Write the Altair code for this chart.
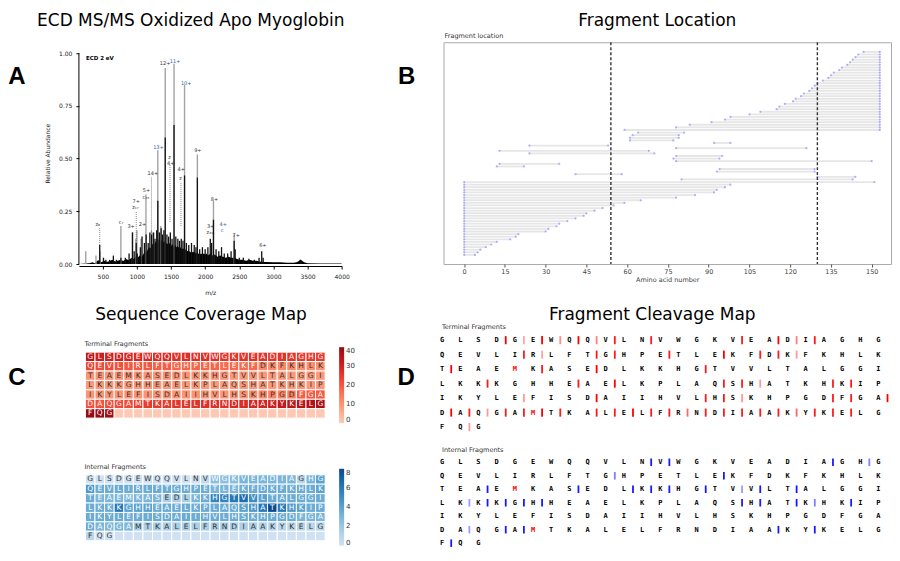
import altair as alt
import pandas as pd

FT = "DejaVu Sans"
FL = "Liberation Sans"
FS = "DejaVu Sans"
FM = "DejaVu Sans Mono"

# ================= Panel A : ECD spectrum =================
env_mz = [150, 300, 350, 380, 400, 430, 460, 480, 520, 560,
          600, 640, 680, 720, 760, 800, 840, 880, 920, 950,
          980, 1010, 1040, 1070, 1100, 1120, 1140, 1160, 1180, 1200,
          1220, 1240, 1260, 1280, 1300, 1320, 1340, 1360, 1380, 1400,
          1420, 1440, 1460, 1480, 1500, 1520, 1540, 1560, 1580, 1600,
          1620, 1640, 1660, 1680, 1700, 1720, 1740, 1760, 1780, 1800,
          1820, 1840, 1860, 1880, 1900, 1920, 1940, 1960, 1980, 2000,
          2020, 2040, 2060, 2080, 2100, 2140, 2180, 2220, 2260, 2300,
          2340, 2380, 2420, 2460, 2500, 2550, 2600, 2650, 2700, 2750,
          2800, 2850, 2900, 3000, 3100, 3200, 3300, 3350, 3400, 3450,
          3500, 3700, 4000]
env_int = [0.000, 0.004, 0.008, 0.004, 0.010, 0.018, 0.014, 0.008, 0.016, 0.010,
           0.014, 0.020, 0.012, 0.015, 0.020, 0.014, 0.024, 0.018, 0.030, 0.024,
           0.034, 0.030, 0.040, 0.034, 0.050, 0.060, 0.055, 0.070, 0.080, 0.075,
           0.090, 0.100, 0.095, 0.110, 0.100, 0.120, 0.105, 0.115, 0.100, 0.110,
           0.095, 0.100, 0.090, 0.100, 0.085, 0.095, 0.080, 0.090, 0.080, 0.085,
           0.075, 0.080, 0.070, 0.075, 0.065, 0.070, 0.060, 0.065, 0.055, 0.060,
           0.055, 0.060, 0.050, 0.055, 0.050, 0.045, 0.050, 0.045, 0.050, 0.045,
           0.050, 0.040, 0.045, 0.050, 0.040, 0.045, 0.035, 0.040, 0.035, 0.030,
           0.035, 0.030, 0.030, 0.025, 0.020, 0.020, 0.015, 0.020, 0.015, 0.015,
           0.012, 0.010, 0.010, 0.008, 0.008, 0.006, 0.006, 0.010, 0.020, 0.008,
           0.004, 0.003, 0.002]

black_mz = [455, 510, 545, 600, 655, 700, 765, 830, 885, 935,
            960, 990, 1005, 1050, 1075, 1110, 1135, 1165, 1190, 1215,
            1240, 1265, 1290, 1306, 1330, 1355, 1375, 1395, 1415, 1440,
            1465, 1490, 1515, 1544, 1570, 1600, 1625, 1650, 1675, 1698,
            1725, 1760, 1800, 1840, 1865, 1886, 1920, 1960, 2000, 2040,
            2075, 2095, 2122, 2160, 2200, 2240, 2280, 2330, 2380, 2425,
            2440, 2500, 2560, 2640, 2720, 2790, 2829, 2850, 3394, 3410]
black_int = [0.09, 0.03, 0.02, 0.02, 0.04, 0.02, 0.03, 0.03, 0.05, 0.15,
             0.06, 0.10, 0.05, 0.08, 0.13, 0.10, 0.14, 0.10, 0.15, 0.14,
             0.15, 0.12, 0.16, 0.30, 0.15, 0.17, 0.14, 0.16, 0.60, 0.14,
             0.13, 0.15, 0.12, 0.66, 0.13, 0.12, 0.11, 0.12, 0.11, 0.42,
             0.10, 0.09, 0.10, 0.09, 0.08, 0.41, 0.07, 0.08, 0.07, 0.08,
             0.12, 0.10, 0.21, 0.07, 0.06, 0.08, 0.05, 0.05, 0.06, 0.11,
             0.07, 0.03, 0.03, 0.025, 0.02, 0.03, 0.06, 0.03, 0.02, 0.015]

gray_mz = [250, 400, 460, 765, 935, 985, 1000, 1061, 1132, 1213,
           1250, 1306, 1350, 1415, 1544, 1698, 1886, 2122, 2425]
gray_int = [0.06, 0.04, 0.06, 0.18, 0.15, 0.12, 0.16, 0.12, 0.33, 0.16,
            0.15, 0.54, 0.18, 0.93, 0.95, 0.85, 0.52, 0.30, 0.14]

lab_text = ["z₈", "c₇", "3+", "7+", "z₁₇", "2+", "5+", "c₁₅", "14+", "13+",
            "12+", "11+", "10+", "z", "4+", "4+", "z", "9+", "8+", "3+",
            "z₂₁", "4+", "c", "7+", "6+"]
lab_mz = [427, 768, 915, 990, 980, 1080, 1140, 1130, 1233, 1315,
          1413, 1560, 1722, 1478, 1495, 1650, 1638, 1893, 2136, 2080,
          2070, 2265, 2250, 2455, 2845]
lab_int = [0.19, 0.20, 0.18, 0.30, 0.27, 0.19, 0.35, 0.32, 0.43, 0.555,
           0.955, 0.965, 0.86, 0.51, 0.48, 0.45, 0.41, 0.54, 0.31, 0.18,
           0.15, 0.19, 0.16, 0.14, 0.09]
lab_kind = ["frag", "frag", "frag", "frag", "frag", "frag", "frag", "frag", "frag", "prec",
            "frag", "prec", "prec", "frag", "frag", "frag", "frag", "frag", "frag", "frag",
            "frag", "prec", "prec", "frag", "frag"]

conn_mz = [455, 990, 1213, 1485, 1645]
conn_lo = [0.09, 0.10, 0.15, 0.20, 0.18]
conn_hi = [0.17, 0.25, 0.41, 0.47, 0.39]

a_ticks = [500, 1000, 1500, 2000, 2500, 3000, 3500, 4000]
a_yticks = [0, 0.25, 0.5, 0.75, 1.0]

# ================= Panel B : fragment location =================
cterm_end = [4, 5, 6, 8, 10, 12, 17, 19, 20, 30, 31, 34, 35, 38, 41, 44, 45, 48, 51, 55,
             59, 65, 78, 85, 92, 93, 96, 98]
internal_start = [0, 80, 130, 41, 93, 94, 12, 13, 78, 77, 78, 24, 13, 78, 24, 92, 61, 61, 62, 64]
internal_end = [151, 143, 144, 58, 129, 129, 22, 35, 150, 94, 95, 70, 68, 126, 53, 98, 77, 79, 79, 81]
zterm_start = [59, 78, 83, 91, 96, 98, 105, 109, 115, 116, 118, 121, 122, 124, 125, 127, 128,
               129, 130, 132, 134, 135, 136, 138, 139, 141, 142, 143, 144, 145, 147]
protein_length = 153
cut_sites = [54, 130]
b_ticks = [0, 15, 30, 45, 60, 75, 90, 105, 120, 135, 150]

# ================= Panels C / D : sequence =================
seq_rows = ["GLSDGEWQQVLNVWGKVEADIAGHG",
            "QEVLIRLFTGHPETLEKFDKFKHLK",
            "TEAEMKASEDLKKHGTVVLTALGGI",
            "LKKKGHHEAELKPLAQSHATKHKIP",
            "IKYLEFISDAIIHVLHSKHPGDFGA",
            "DAQGAMTKALELFRNDIAAKYKELG",
            "FQG"]

term_cov = [34, 31, 30, 30, 29, 28, 28, 28, 28, 27, 27, 27, 27, 27, 26, 26, 26, 26, 26, 26, 26, 26, 25, 25, 25,
            23, 22, 22, 21, 20, 20, 20, 19, 19, 18, 18, 18, 18, 18, 17, 17, 17, 17, 12, 12, 12, 12, 11, 11, 11,
            10, 10, 10, 10, 10, 10, 10, 10, 10, 10, 10, 10, 10, 10, 10, 9, 9, 9, 9, 9, 9, 9, 9, 9, 9,
            9, 9, 9, 9, 9, 9, 9, 9, 9, 9, 9, 9, 9, 9, 9, 9, 9, 9, 9, 9, 9, 9, 9, 9, 9,
            10, 10, 10, 10, 10, 10, 10, 10, 10, 10, 10, 10, 10, 10, 10, 10, 10, 11, 12, 13, 13, 14, 19, 20, 20,
            21, 21, 22, 22, 22, 24, 25, 25, 25, 26, 26, 26, 27, 27, 27, 28, 28, 29, 30, 31, 33, 34, 35, 36, 38,
            40, 40, 39]

int_cov = [0, 0, 0, 0, 0, 0, 0, 0, 0, 0, 0, 0, 0.5, 2.5, 2.5, 2.5, 3, 3, 3, 3, 3, 3, 1, 3, 4,
           4.5, 3.5, 3.5, 3.5, 3.5, 3.5, 3.5, 3.5, 3.5, 3.5, 3.5, 3.5, 3.5, 3, 3, 3, 3.5, 3.5, 3.5, 3.5,
           3.5, 3.5, 3.5, 3.5, 4,
           3.5, 3, 3, 3, 3, 3, 3, 3, 1.5, 1.5, 1.5, 3, 3.5, 5.5, 5.5, 6, 6.5, 5, 4, 3.5, 3.5, 3.5, 3.5, 3.5, 3.5,
           3.5, 3.5, 3.5, 6, 4, 4, 4, 3.5, 3.5, 3.5, 3.5, 3.5, 3.5, 3.5, 3.5, 3.5, 4, 4.5, 6, 8, 6, 4.5, 4, 3.5, 3.5,
           3.5, 3.5, 3.5, 3.5, 3.5, 3.5, 3.5, 3.5, 3.5, 3.5, 3.5, 3.5, 3.5, 3.5, 3.5, 3.5, 3.5, 3.5, 3.5, 3.5,
           3.5, 3.5, 3, 3, 3,
           3.5, 3, 3, 3, 3, 1.5, 1.5, 1.5, 1.5, 1.5, 1.5, 1.5, 1.5, 1.5, 1.5, 1.5, 1.5, 1.5, 1.2, 1.2,
           1, 1, 1, 1, 1,
           1, 0, 0]

term_after = [4, 5, 6, 7, 8, 9, 10, 12, 17, 19, 20, 21,
              30, 31, 34, 35, 38, 41, 43, 44, 45,
              51, 56, 59, 65,
              78, 83, 85, 91, 92, 93, 97, 98,
              105, 109, 115, 116, 117, 122, 123, 125,
              126, 127, 128, 129, 130, 131, 132, 134, 135, 136, 137, 138, 139, 140, 141, 142,
              143, 144, 145, 146, 147, 148,
              152]
term_alpha = [1.0, 0.35, 1.0, 0.45, 1.0, 0.5, 0.9, 0.9, 0.9, 1.0, 0.5, 0.9,
              0.9, 0.35, 0.9, 0.9, 0.9, 1.0, 0.9, 0.9, 0.4,
              1.0, 0.9, 1.0, 0.9,
              0.9, 0.9, 1.0, 0.9, 0.9, 0.4, 0.9, 0.9,
              0.4, 1.0, 0.9, 0.9, 0.4, 0.9, 0.9, 1.0,
              1.0, 0.9, 0.4, 0.9, 0.9, 1.0, 0.9, 0.9, 0.9, 1.0, 0.9, 0.9, 0.6, 0.9, 0.9, 0.9,
              0.9, 0.9, 0.6, 0.9, 0.9, 0.9,
              0.4]
int_after = [12, 13, 22, 24,
             35, 41,
             53, 58, 61, 62, 63, 65, 67, 68, 70,
             77, 78, 79, 80, 81, 92, 93, 95, 96, 98,
             127, 129, 130, 144, 146,
             151]
int_alpha = [0.9, 0.9, 0.9, 0.5,
             0.5, 0.9,
             0.9, 0.9, 0.9, 0.9, 0.9, 0.9, 0.4, 0.9, 0.9,
             0.4, 0.9, 0.9, 0.9, 0.9, 0.9, 0.9, 0.9, 0.5, 0.9,
             0.4, 0.9, 0.9, 0.9, 0.9,
             0.9]
oxidized_met = [55, 131]
per_row = 25


# ---------------- helpers ----------------
def big_title(text, dx, offset):
    return alt.TitleParams(text=text, font=FT, fontSize=17, fontWeight="normal", color="black",
                           frame="group", anchor="middle", dx=dx, offset=offset)


def letter(ch, x, y):
    return alt.Chart(pd.DataFrame({"t": [ch]})).mark_text(
        font=FL, fontSize=24, fontWeight="bold", align="center", baseline="middle", color="black"
    ).encode(text="t:N", x=alt.value(x), y=alt.value(y))


def note(txt, x, y, size=6.5, weight="normal", color="#333333"):
    return alt.Chart(pd.DataFrame({"t": [txt]})).mark_text(
        font=FS, fontSize=size, fontWeight=weight, align="left", baseline="middle", color=color
    ).encode(text="t:N", x=alt.value(x), y=alt.value(y))


def anchor(x, h):
    # invisible edge used only to pin the left extent of a panel
    return alt.Chart(pd.DataFrame({"t": [0]})).mark_rule(color="white", opacity=0, strokeWidth=1).encode(
        x=alt.value(x), y=alt.value(0), y2=alt.value(h))


# ================= build Panel A =================
dfA_env = pd.DataFrame({"mz": env_mz, "ab": env_int})
dfA_black = pd.DataFrame({"mz": black_mz, "ab": black_int})
dfA_gray = pd.DataFrame({"mz": gray_mz, "ab": gray_int})
dfA_lab = pd.DataFrame({"mz": lab_mz, "ab": lab_int, "t": lab_text, "kind": lab_kind})
dfA_conn = pd.DataFrame({"mz": conn_mz, "ab": conn_lo, "ab2": conn_hi})

xA = alt.X("mz:Q", scale=alt.Scale(domain=[150, 4000], nice=False, zero=False),
           axis=alt.Axis(values=a_ticks, format="d", title="m/z", labelFont=FS, labelFontSize=6,
                         titleFont=FS, titleFontSize=6, titleFontWeight="normal", tickSize=3,
                         labelPadding=5, titlePadding=10, offset=2, domainColor="black",
                         tickColor="black", labelColor="#222222", titleColor="#222222",
                         labelFlush=False, grid=False))
yA = alt.Y("ab:Q", scale=alt.Scale(domain=[0, 1.0521], nice=False, zero=False),
           axis=alt.Axis(values=a_yticks, format=".2f", title="Relative Abundance", labelFont=FS,
                         labelFontSize=6, titleFont=FS, titleFontSize=6, titleFontWeight="normal",
                         tickSize=3, labelPadding=4, titlePadding=8, domain=False,
                         tickColor="black", labelColor="#222222", titleColor="#222222", grid=False))

a_axisline = alt.Chart(pd.DataFrame({"ab": [0.0], "ab2": [1.0]})).mark_rule(
    color="black", strokeWidth=1).encode(x=alt.value(0), y=yA, y2="ab2:Q")
a_env = alt.Chart(dfA_env).mark_area(color="black").encode(x=xA, y=yA)
a_gray = alt.Chart(dfA_gray).mark_rule(color="#a3a3a3", strokeWidth=1.4).encode(x=xA, y=yA, y2=alt.datum(0))
a_black = alt.Chart(dfA_black).mark_rule(color="#111111", strokeWidth=1.3).encode(x=xA, y=yA, y2=alt.datum(0))
a_conn = alt.Chart(dfA_conn).mark_rule(color="#666666", strokeWidth=0.8, strokeDash=[1, 1]).encode(
    x=xA, y=yA, y2="ab2:Q")
a_lab = alt.Chart(dfA_lab).mark_text(font=FS, fontSize=5, baseline="middle").encode(
    x=xA, y=yA, text="t:N",
    color=alt.condition("datum.kind == 'prec'", alt.value("#2f5f9f"), alt.value("#333333")))

panelA = alt.layer(
    a_env, a_gray, a_black, a_conn, a_lab, a_axisline,
    note("ECD 2 eV", 7, 16, size=5.5, weight="bold", color="black"),
    letter("A", -62, 35),
    anchor(-70, 60),
).properties(width=263, height=222,
             title=big_title("ECD MS/MS Oxidized Apo Myoglobin", -19.5, 12.25))

# ================= build Panel B =================
starts = [0] * len(cterm_end) + internal_start + zterm_start
ends = cterm_end + internal_end + [protein_length] * len(zterm_start)
dfB = pd.DataFrame({"pos": starts, "end": ends, "row": list(range(len(starts)))})
dfB_dots = pd.concat([dfB[["pos", "row"]], dfB[["end", "row"]].rename(columns={"end": "pos"})])
dfB_cut = pd.DataFrame({"pos": cut_sites})

xB = alt.X("pos:Q", scale=alt.Scale(domain=[-7.6, 157.1], nice=False, zero=False),
           axis=alt.Axis(values=b_ticks, title="Amino acid number", labelFont=FS, labelFontSize=6.5,
                         titleFont=FS, titleFontSize=6.5, titleFontWeight="normal", domain=False,
                         tickSize=3, tickColor="#555555", labelColor="#444444", titleColor="#444444",
                         labelPadding=1, titlePadding=2, labelFlush=False, grid=False))
yB = alt.Y("row:Q", scale=alt.Scale(domain=[-3.5, 81.7], nice=False, zero=False), axis=None)

b_seg = alt.Chart(dfB).mark_rule(color="#e6e6e6", strokeWidth=1.8).encode(x=xB, x2="end:Q", y=yB)
b_dot = alt.Chart(dfB_dots).mark_circle(size=5, color="#5a5aff", opacity=0.45).encode(x=xB, y=yB)
b_cut = alt.Chart(dfB_cut).mark_rule(color="#333333", strokeWidth=1.4, strokeDash=[3, 2]).encode(x=xB)

panelB = alt.layer(
    b_seg, b_dot, b_cut,
    note("Fragment location", 1, -6, size=6.5),
    letter("B", -37, 35),
).properties(width=448, height=222, title=big_title("Fragment Location", -10, 3),
             view=alt.ViewBackground(stroke="#aaaaaa", strokeWidth=1))

# ================= build Panel C =================
C_LEFT = -0.677   # blank margin left of the sequence grid


def cov_frame(cov):
    seq = "".join(seq_rows)
    recs = []
    for i in range(per_row * len(seq_rows)):
        c, r = i % per_row, i // per_row
        recs.append({"x0": c, "x1": c + 1, "xc": c + 0.5, "y0": r, "y1": r + 1, "yc": r + 0.5,
                     "letter": seq[i] if i < len(seq) else "",
                     "val": cov[i] if i < len(seq) else 0})
    return pd.DataFrame(recs)


def heat(cov, scheme, dmax, ticks, thr, label, label_y, legend_y, legend_len, ytop):
    df = cov_frame(cov)
    xs = alt.Scale(domain=[C_LEFT, 25], nice=False, zero=False)
    ys = alt.Scale(domain=[ytop, 7], nice=False, zero=False, reverse=True)
    rect = alt.Chart(df).mark_rect(stroke="white", strokeWidth=1).encode(
        x=alt.X("x0:Q", scale=xs, axis=None), x2="x1:Q",
        y=alt.Y("y0:Q", scale=ys, axis=None), y2="y1:Q",
        color=alt.Color("val:Q", scale=alt.Scale(scheme=scheme, domain=[0, dmax]),
                        legend=alt.Legend(orient="none", legendX=260.5, legendY=legend_y,
                                          direction="vertical", gradientLength=legend_len,
                                          gradientThickness=5, values=ticks, labelFont=FS,
                                          labelFontSize=7, labelColor="#333333", title=None)))
    txt = alt.Chart(df[df["letter"] != ""]).mark_text(font=FS, fontSize=7.5, baseline="middle").encode(
        x=alt.X("xc:Q", scale=xs, axis=None), y=alt.Y("yc:Q", scale=ys, axis=None), text="letter:N",
        color=alt.condition("datum.val > %s" % thr, alt.value("white"), alt.value("#333333")))
    return rect, txt, note(label, 5.5, label_y)


ct_rect, ct_txt, ct_note = heat(term_cov, "reds", 40, [0, 10, 20, 30, 40], 15, "Terminal Fragments",
                                11.25, 14.25, 76, -2.04)
cb_rect, cb_txt, cb_note = heat(int_cov, "blues", 8, [0, 2, 4, 6, 8], 2.2, "Internal Fragments",
                                -8, -6, 77, 0)

panelCt = alt.layer(ct_rect, ct_txt, ct_note, letter("C", -62, 45.25), anchor(-70, 60)).properties(
    width=246.5, height=85.25, title=big_title("Sequence Coverage Map", -1, 9.25))
panelCb = alt.layer(cb_rect, cb_txt, cb_note).properties(width=246.5, height=66)
panelC = alt.vconcat(panelCt, panelCb, spacing=56, bounds="flush").resolve_scale(color="independent")


# ================= build Panel D =================
def letters_frame():
    seq = "".join(seq_rows)
    return pd.DataFrame({"col": [i % per_row for i in range(len(seq))],
                         "row": [i // per_row for i in range(len(seq))],
                         "letter": list(seq),
                         "ox": [(i + 1) in oxidized_met for i in range(len(seq))]})


def bars_frame(after, alpha, half=0.28):
    return pd.DataFrame({"col": [(a - 1) % per_row + 0.5 for a in after],
                         "y1": [(a - 1) // per_row - half for a in after],
                         "y2": [(a - 1) // per_row + half for a in after],
                         "a": alpha})


def cleavage(after, alpha, color, ytop, label):
    ysc = alt.Scale(domain=[-0.5, ytop], nice=False, zero=False, reverse=True)
    xD = alt.X("col:Q", scale=alt.Scale(domain=[-0.5, 24.5], nice=False, zero=False), axis=None)
    bars = alt.Chart(bars_frame(after, alpha)).mark_rule(color=color, strokeWidth=1.8).encode(
        x=xD, y=alt.Y("y1:Q", scale=ysc, axis=None), y2="y2:Q",
        opacity=alt.Opacity("a:Q", scale=None))
    lets = alt.Chart(letters_frame()).mark_text(font=FM, fontSize=7, fontWeight="bold",
                                                baseline="middle").encode(
        x=xD, y=alt.Y("row:Q", scale=ysc, axis=None), text="letter:N",
        color=alt.condition("datum.ox", alt.value("red"), alt.value("black")))
    return bars, lets, note(label, 9, -6)


dt_bars, dt_lets, dt_note = cleavage(term_after, term_alpha, "red", 6.5, "Terminal Fragments")
db_bars, db_lets, db_note = cleavage(int_after, int_alpha, "blue", 6.25, "Internal Fragments")

panelDt = alt.layer(dt_bars, dt_lets, dt_note, letter("D", -27, 45)).properties(
    width=455, height=101.5, title=big_title("Fragment Cleavage Map", -8, 0))
panelDb = alt.layer(db_bars, db_lets, db_note).properties(width=455, height=91.1)
panelD = alt.vconcat(panelDt, panelDb, spacing=20.75, bounds="flush")

row1 = alt.hconcat(panelA, panelB, spacing=47)
row2 = alt.hconcat(panelC, panelD, spacing=41.5).resolve_scale(color="independent")

chart = alt.vconcat(row1, row2, spacing=9,
                    padding={"top": 3, "left": 0, "right": 0, "bottom": 0}).resolve_scale(
    color="independent").configure_view(stroke=None).configure_axis(grid=False)

chart.save("out.html", embed_options={"renderer": "svg", "actions": False})
